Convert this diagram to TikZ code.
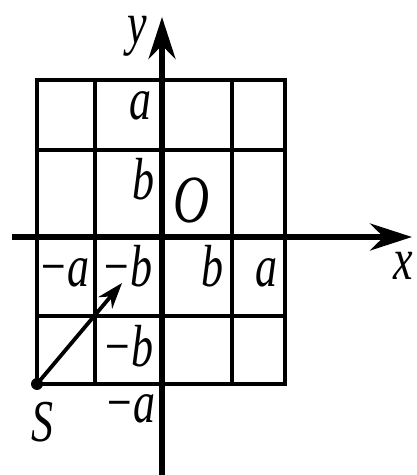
\documentclass[tikz,border=0pt]{standalone}
\usepackage{fontspec}
\setmainfont{Liberation Serif}
\usetikzlibrary{arrows.meta, positioning}

\newcommand{\tall}[1]{\scalebox{1}[1.35]{\textit{#1}}}

\begin{document}
\begin{tikzpicture}[
  x=1pt, y=1pt,
  gridline/.style={draw, line width=3.8pt},
  axis/.style={draw, line width=5.5pt, -{Stealth[length=42pt, width=27pt]}},
  lbl/.style={font=\fontsize{44}{44}\selectfont, inner sep=0pt, anchor=base},
  spot/.style={circle, fill, inner sep=0pt, minimum size=12pt},
  move/.style={draw, line width=3.8pt, -{Stealth[length=26pt, width=18pt]}},
]
\useasboundingbox (0,0) rectangle (416,475);

% grid
\draw[gridline] (37,91) rectangle (285,395);
\foreach \gx in {95,232} \draw[gridline] (\gx,91) -- (\gx,395);
\foreach \gy in {159,325} \draw[gridline] (37,\gy) -- (285,\gy);

% axes
\coordinate (xs) at (12,238);
\coordinate (xe) at (412,238);
\coordinate (ys) at (162,0);
\coordinate (ye) at (162,458);
\draw[axis] (xs) -- (xe);
\draw[axis] (ys) -- (ye);

% labels
\node[lbl] (ylab) at (137,431) {\tall{y}};
\node[lbl] (xlab) at (403,195) {\tall{x}};
\node[lbl, font=\fontsize{50}{50}\selectfont] (orig) at (192,252) {\tall{O}};
\node[lbl] (a1) at (140,355) {\tall{a}};
\node[lbl] (b1) at (143,275) {\tall{b}};
\node[lbl] (ma1) at (64,188) {\tall{−a}};
\node[lbl] (mb1) at (127,188) {\tall{−b}};
\node[lbl] (b2) at (212,188) {\tall{b}};
\node[lbl] (a2) at (266,188) {\tall{a}};
\node[lbl] (mb2) at (128,108) {\tall{−b}};
\node[lbl] (ma2) at (130,52) {\tall{−a}};

% start point
\node[spot] (S) at (37,91) {};
\node[lbl] (slab) at (42,33) {\tall{S}};
\coordinate (tip) at (122,192);
\draw[move] (S.center) -- (tip);
\end{tikzpicture}
\end{document}
